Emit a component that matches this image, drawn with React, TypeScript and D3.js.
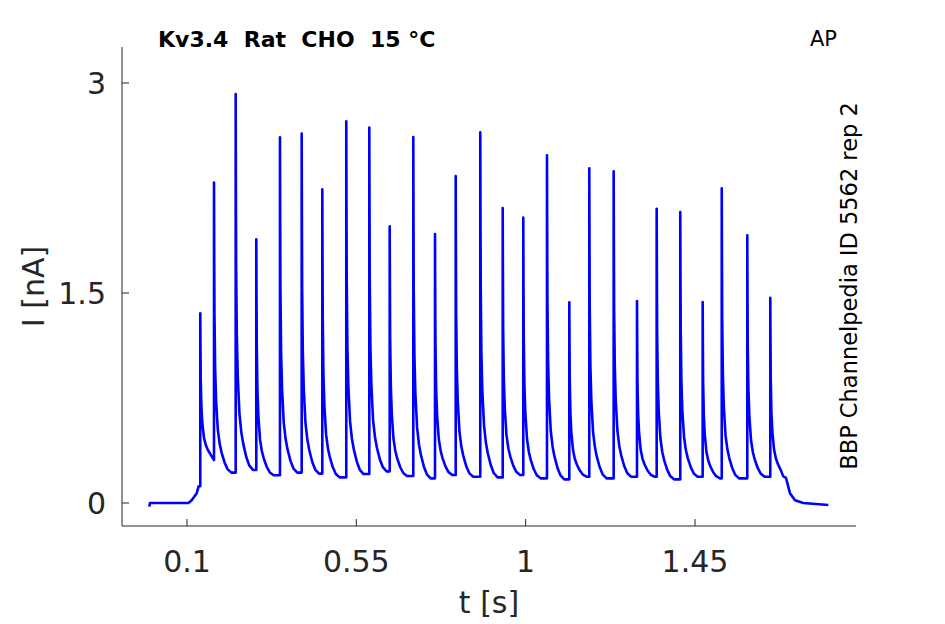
import React from "react";
import * as d3 from "d3";

// spike peaks of the AP-clamp response (s, nA)
const spikeTimes = [
  0.1353, 0.1718, 0.2294, 0.2842, 0.3471, 0.4048, 0.4596, 0.5233, 0.5845,
  0.6387, 0.7014, 0.7591, 0.8141, 0.8794, 0.939, 0.9937, 1.0567, 1.116,
  1.1691, 1.2339, 1.2959, 1.3482, 1.4109, 1.4704, 1.5211, 1.589, 1.6501,
];
const spikePeaks = [
  1.355, 2.288, 2.921, 1.883, 2.612, 2.638, 2.24, 2.726, 2.681, 1.976, 2.614,
  1.921, 2.336, 2.648, 2.107, 2.038, 2.483, 1.433, 2.39, 2.369, 1.443, 2.102,
  2.079, 1.436, 2.248, 1.912, 1.466,
];
// current reached at the end of each spike's decay
const troughs = [
  0.307, 0.217, 0.236, 0.198, 0.217, 0.21, 0.183, 0.207, 0.226, 0.193, 0.176,
  0.2, 0.188, 0.183, 0.2, 0.176, 0.169, 0.188, 0.176, 0.188, 0.188, 0.169,
  0.188, 0.176, 0.176, 0.188, 0.19,
];
const lastDecayEnd = 1.6846;

const decayMs = [0, 0.5, 1.2, 3, 5.5, 10, 15, 20, 28, 36, 46];
const decayFrac = [1, 0.78, 0.55, 0.36, 0.25, 0.15, 0.1, 0.07, 0.035, 0.012, 0];

// baseline before the train and tail after it
const onsetT = [0.0, 0.0017, 0.1035, 0.1125, 0.1258, 0.1311];
const onsetI = [-0.026, 0.0, 0.0, 0.02, 0.07, 0.12];
const offsetT = [1.6918, 1.7024, 1.7157, 1.7378, 1.8043];
const offsetI = [0.18, 0.07, 0.02, 0.0, -0.014];

const xTicks = [0.1, 0.55, 1, 1.45];
const yTicks = [0, 1.5, 3];

const W = 945;
const H = 624;
const AX = { left: 122, right: 856, top: 47, bottom: 526 };
const AXIS_COLOR = "#262626";
const FONT = "'DejaVu Sans', sans-serif";

const buildTrace = (): [number, number][] => {
  const pts: [number, number][] = onsetT.map((t, i) => [t, onsetI[i]]);
  spikeTimes.forEach((t0, i) => {
    const peak = spikePeaks[i];
    const end = troughs[i];
    const prev = i === 0 ? onsetI[onsetI.length - 1] : troughs[i - 1];
    const next = i < spikeTimes.length - 1 ? spikeTimes[i + 1] : lastDecayEnd;
    pts.push([t0, prev]);
    pts.push([t0, peak]);
    for (let k = 1; k < decayMs.length; k++) {
      const t = t0 + decayMs[k] / 1000;
      if (t >= next - 0.0005) break;
      pts.push([t, end + (peak - end) * decayFrac[k]]);
    }
    pts.push([next, end]);
  });
  offsetT.forEach((t, i) => pts.push([t, offsetI[i]]));
  return pts;
};

const App = () => {
  const x = d3.scaleLinear().domain([-0.0727, 1.8779]).range([AX.left, AX.right]);
  const y = d3.scaleLinear().domain([-0.1643, 3.257]).range([AX.bottom, AX.top]);

  const line = d3
    .line<[number, number]>()
    .x((d) => x(d[0]))
    .y((d) => y(d[1]));

  const trace = buildTrace();

  return (
    <svg
      width={W}
      height={H}
      style={{ position: "absolute", left: 0, top: 0, background: "#fff" }}
    >
      <path
        d={line(trace) ?? ""}
        fill="none"
        stroke="#0000ff"
        strokeWidth={2.6}
        strokeLinejoin="round"
      />

      {/* axes */}
      <line x1={AX.left} x2={AX.left} y1={AX.top} y2={AX.bottom} stroke={AXIS_COLOR} />
      <line x1={AX.left} x2={AX.right} y1={AX.bottom} y2={AX.bottom} stroke={AXIS_COLOR} />

      {xTicks.map((t) => (
        <g key={`x${t}`}>
          <line
            x1={x(t)}
            x2={x(t)}
            y1={AX.bottom}
            y2={AX.bottom - 7}
            stroke={AXIS_COLOR}
          />
          <text
            x={x(t)}
            y={572}
            fontSize={30}
            fontFamily={FONT}
            fill={AXIS_COLOR}
            textAnchor="middle"
          >
            {t}
          </text>
        </g>
      ))}

      {yTicks.map((t) => (
        <g key={`y${t}`}>
          <line
            x1={AX.left}
            x2={AX.left + 7}
            y1={y(t)}
            y2={y(t)}
            stroke={AXIS_COLOR}
          />
          <text
            x={106}
            y={y(t)}
            dy="0.36em"
            fontSize={30}
            fontFamily={FONT}
            fill={AXIS_COLOR}
            textAnchor="end"
          >
            {t}
          </text>
        </g>
      ))}

      <text
        x={(AX.left + AX.right) / 2}
        y={613}
        fontSize={30}
        fontFamily={FONT}
        fill={AXIS_COLOR}
        textAnchor="middle"
      >
        t [s]
      </text>
      <text
        transform={`translate(44, ${(AX.top + AX.bottom) / 2}) rotate(-90)`}
        fontSize={30}
        fontFamily={FONT}
        fill={AXIS_COLOR}
        textAnchor="middle"
      >
        I [nA]
      </text>

      <text x={158} y={47} fontSize={22} fontWeight="bold" fontFamily={FONT} fill="#000">
        Kv3.4{"\u00a0\u00a0"}Rat{"\u00a0\u00a0"}CHO{"\u00a0\u00a0"}15 °C
      </text>
      <text x={810} y={46} fontSize={21} fontFamily={FONT} fill="#000">
        AP
      </text>
      <text
        transform={`translate(857, 286) rotate(-90)`}
        fontSize={22.5}
        fontFamily={FONT}
        fill="#000"
        textAnchor="middle"
      >
        BBP Channelpedia ID 5562 rep 2
      </text>
    </svg>
  );
};

export default App;
